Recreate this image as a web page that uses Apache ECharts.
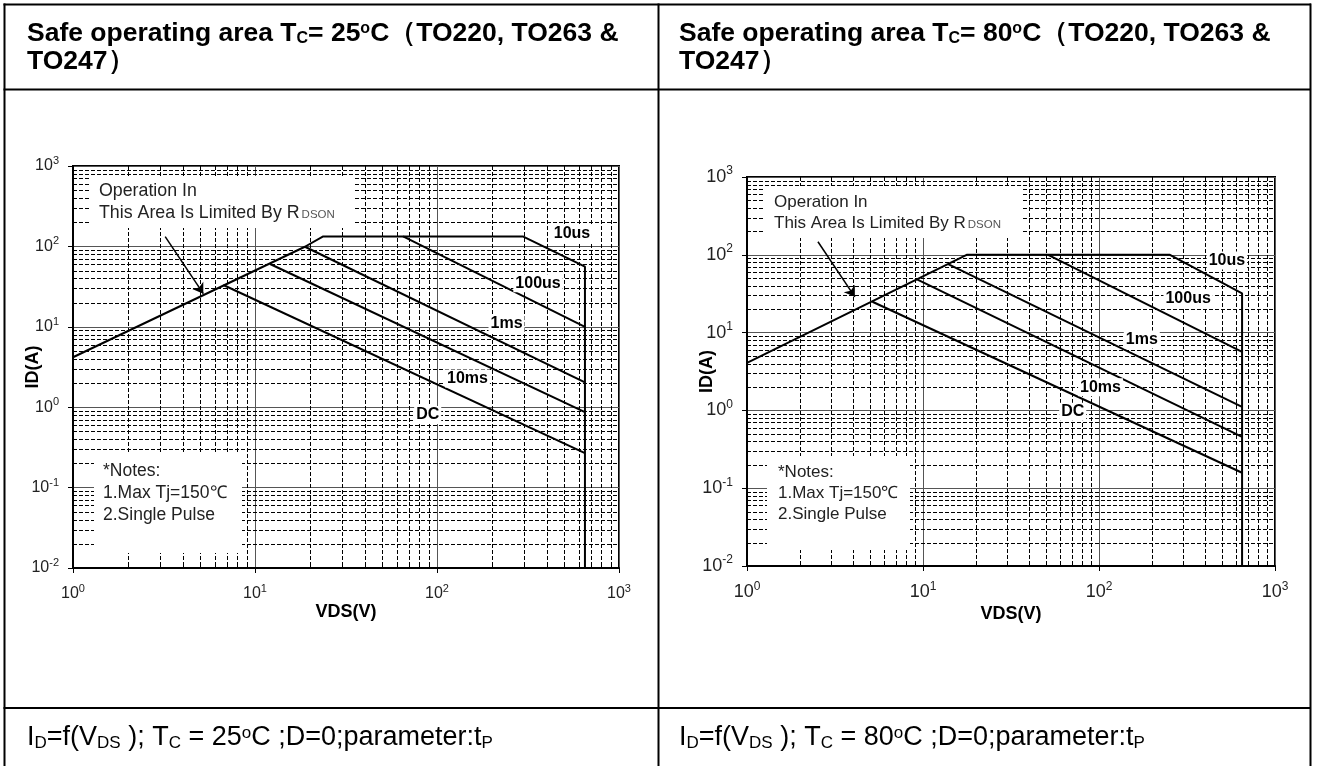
<!DOCTYPE html>
<html>
<head>
<meta charset="utf-8">
<script src="https://cdn.jsdelivr.net/npm/echarts@6/dist/echarts.min.js"></script>
<style>
  html, body { margin: 0; padding: 0; background: #fff; }
  #soa { width: 1317px; height: 766px; }
</style>
</head>
<body>
<div id="soa"></div>
<script>
// ---- axis structure (log-log, VDS in V, ID in A) ----
const xRange = [1, 1000];
const yRange = [0.01, 1000];
const xMinor = [2, 3, 4, 5, 6, 7, 8, 9, 20, 30, 40, 50, 60, 70, 80, 90, 200, 300, 400, 500, 600, 700, 800, 900];
const yMinor = [0.02, 0.03, 0.04, 0.05, 0.06, 0.07, 0.08, 0.09,
                0.2, 0.3, 0.4, 0.5, 0.6, 0.7, 0.8, 0.9,
                2, 3, 4, 5, 6, 7, 8, 9,
                20, 30, 40, 50, 60, 70, 80, 90,
                200, 300, 400, 500, 600, 700, 800, 900];

// ---- Tc = 25 °C ----
// RDS(on) limit -> current limit -> 10us pulse -> VDS max
const limit25 = [[1, 4.18], [18.8, 99], [23.7, 133], [296, 133], [650, 56], [650, 0.01]];
const us100_25 = [[65.1, 133], [650, 10]];
const ms1_25 = [[18.8, 99], [650, 2.04]];
const ms10_25 = [[12.1, 60.4], [650, 0.87]];
const dc_25 = [[6.7, 33.1], [650, 0.268]];

// ---- Tc = 80 °C ----
const limit80 = [[1, 4.09], [17.7, 100], [253, 100], [650, 31.9], [650, 0.01]];
const us100_80 = [[51.4, 100], [650, 5.67]];
const ms1_80 = [[13.9, 75.9], [650, 1.11]];
const ms10_80 = [[9.18, 48.7], [650, 0.458]];
const dc_80 = [[5.16, 24.9], [650, 0.158]];

// pulse-width names and where each is written (data space: VDS, ID)
const pulseNames = ['10us', '100us', '1ms', '10ms', 'DC'];
const labelAt25 = [[552, 146], [359, 34.9], [241, 10.9], [147, 2.27], [88.9, 0.80]];
const labelAt80 = [[533, 84.2], [321, 27.0], [175, 8.13], [102, 1.99], [70.9, 0.96]];

// arrow from the RDS(on) note to the limit line (data space)
const arrow25 = [[3.21, 132], [5.2, 25.8]];
const arrow80 = [[2.53, 147], [4.1, 28.8]];

const FONT = '"Liberation Sans", Arial, Helvetica, sans-serif';

function powLabel(v) {
  const e = Math.round(Math.log10(v));
  return '{b|10}{s|' + e + '}';
}

function tickRich(size, sup) {
  return {
    b: { fontSize: size, fontFamily: FONT, color: '#222', lineHeight: size + 3 },
    s: { fontSize: sup, fontFamily: FONT, color: '#222', lineHeight: sup, padding: [0, 0, size - 6, 0] }
  };
}

function logAxis(gi, isX, size, sup, nameGap, margin) {
  return {
    type: 'log', logBase: 10, gridIndex: gi,
    min: isX ? xRange[0] : yRange[0],
    max: isX ? xRange[1] : yRange[1],
    name: isX ? 'VDS(V)' : 'ID(A)',
    nameLocation: 'middle', nameGap: nameGap, nameRotate: isX ? 0 : 90,
    nameMoveOverlap: false,
    nameTextStyle: { fontFamily: FONT, fontWeight: 'bold', fontSize: 18, color: '#000' },
    axisLine: { show: true, onZero: false, lineStyle: { color: '#000', width: 2 } },
    axisTick: { show: true, inside: false, length: 5, lineStyle: { color: '#000', width: 1 } },
    axisLabel: { show: true, margin: margin, formatter: powLabel, rich: tickRich(size, sup) },
    splitLine: { show: true, lineStyle: { color: '#555', width: 1, type: 'solid' } },
    minorTick: { show: false },
    minorSplitLine: { show: false }
  };
}

// dashed minor grid lines plus short inside ticks, placed by the axis scale
function minorGrid(gi, dir, values) {
  return {
    type: 'custom', xAxisIndex: gi, yAxisIndex: gi, z: 1, silent: true,
    data: values.map(v => dir === 'x' ? [v, 1] : [1, v]),
    encode: { x: 0, y: 1 },
    renderItem(params, api) {
      const cs = params.coordSys;
      const p = api.coord([api.value(0), api.value(1)]);
      const dash = { stroke: '#000', lineWidth: 1, lineDash: [4, 2], fill: null };
      const solid = { stroke: '#000', lineWidth: 1, fill: null };
      if (dir === 'x') {
        const x = Math.round(p[0]) + 0.5;
        return { type: 'group', children: [
          { type: 'line', shape: { x1: x, y1: cs.y, x2: x, y2: cs.y + cs.height }, style: dash },
          { type: 'line', shape: { x1: x, y1: cs.y + cs.height, x2: x, y2: cs.y + cs.height - 5 }, style: solid }
        ] };
      }
      const y = Math.round(p[1]) + 0.5;
      return { type: 'group', children: [
        { type: 'line', shape: { x1: cs.x, y1: y, x2: cs.x + cs.width, y2: y }, style: dash },
        { type: 'line', shape: { x1: cs.x, y1: y, x2: cs.x + 4, y2: y }, style: solid }
      ] };
    }
  };
}

function curve(gi, data, extra) {
  return Object.assign({
    type: 'line', xAxisIndex: gi, yAxisIndex: gi, data: data,
    symbol: 'none', showSymbol: false, silent: true, z: 5,
    lineStyle: { color: '#000', width: 2 }
  }, extra || {});
}

function arrowMark(coords) {
  return {
    silent: true, symbol: ['none', 'arrow'], symbolSize: 10,
    label: { show: false },
    lineStyle: { color: '#000', width: 1.5, type: 'solid' },
    itemStyle: { color: '#000' },
    data: [[{ coord: coords[0] }, { coord: coords[1] }]]
  };
}

function pulseLabels(gi, anchors, size) {
  return {
    type: 'scatter', xAxisIndex: gi, yAxisIndex: gi, z: 6, silent: true,
    symbol: 'circle', symbolSize: 1, itemStyle: { color: '#fff', opacity: 1 },
    data: anchors.map((a, i) => [a[0], a[1], pulseNames[i]]),
    label: {
      show: true, position: 'inside', formatter: p => p.data[2],
      fontFamily: FONT, fontWeight: 'bold', fontSize: size, color: '#000',
      textBorderWidth: 0, textBorderColor: 'transparent',
      backgroundColor: '#fff', padding: [1, 2]
    },
    labelLayout: { hideOverlap: false }
  };
}

// ---- table frame, headings, notes ----
function hline(x1, x2, y) {
  return { type: 'line', z: 20, shape: { x1: x1, y1: y, x2: x2, y2: y }, style: { stroke: '#000', lineWidth: 2 } };
}
function vline(x, y1, y2) {
  return { type: 'line', z: 20, shape: { x1: x, y1: y1, x2: x, y2: y2 }, style: { stroke: '#000', lineWidth: 2 } };
}
function whiteBox(x, y, w, h) {
  return { type: 'rect', z: 3, shape: { x: x, y: y, width: w, height: h }, style: { fill: '#fff', stroke: null } };
}
function noteText(x, y, text, size) {
  return {
    type: 'text', z: 4, x: x, y: y,
    style: {
      text: text, fontFamily: FONT, fontSize: size, fill: '#222', verticalAlign: 'middle', align: 'left',
      rich: { d: { fontFamily: FONT, fontSize: 11.5, fill: '#555', padding: [4, 0, 0, 2], lineHeight: 12 } }
    }
  };
}
const headRich = {
  sub: { fontFamily: FONT, fontWeight: 'bold', fontSize: 16, fill: '#000', lineHeight: 16, padding: [10, 0, 0, 0] },
  sup: { fontFamily: FONT, fontWeight: 'bold', fontSize: 16, fill: '#000', lineHeight: 16, padding: [0, 0, 10, 0] }
};
const captionRich = {
  sub: { fontFamily: FONT, fontSize: 17, fill: '#000', lineHeight: 17, padding: [10, 0, 0, 0] },
  sup: { fontFamily: FONT, fontSize: 17, fill: '#000', lineHeight: 17, padding: [0, 0, 10, 0] }
};
function heading(x, tc) {
  return {
    type: 'text', z: 20, x: x, y: 20,
    style: {
      text: 'Safe operating area T{sub|C}= ' + tc + '{sup|o}C（TO220, TO263 &\nTO247）',
      fontFamily: FONT, fontWeight: 'bold', fontSize: 26.5, lineHeight: 28, fill: '#000',
      align: 'left', verticalAlign: 'top', rich: headRich
    }
  };
}
function caption(x, tc) {
  return {
    type: 'text', z: 20, x: x, y: 738,
    style: {
      text: 'I{sub|D}=f(V{sub|DS} ); T{sub|C} = ' + tc + '{sup|o}C ;D=0;parameter:t{sub|P}',
      fontFamily: FONT, fontSize: 27, lineHeight: 30, fill: '#000',
      align: 'left', verticalAlign: 'middle', rich: captionRich
    }
  };
}

const option = {
  animation: false,
  backgroundColor: '#fff',
  grid: [
    { left: 73, top: 166, width: 546, height: 402, show: true, borderColor: '#000', borderWidth: 2,
      backgroundColor: 'transparent', containLabel: false, outerBoundsMode: 'none' },
    { left: 747, top: 177, width: 528, height: 389, show: true, borderColor: '#000', borderWidth: 2,
      backgroundColor: 'transparent', containLabel: false, outerBoundsMode: 'none' }
  ],
  xAxis: [logAxis(0, true, 16, 11, 35, 16), logAxis(1, true, 18, 12, 39, 16)],
  yAxis: [logAxis(0, false, 16, 11, 31, 14), logAxis(1, false, 18, 12, 31, 14)],
  series: [
    minorGrid(0, 'x', xMinor), minorGrid(0, 'y', yMinor),
    minorGrid(1, 'x', xMinor), minorGrid(1, 'y', yMinor),

    curve(0, limit25, { markLine: arrowMark(arrow25) }),
    curve(0, us100_25), curve(0, ms1_25), curve(0, ms10_25), curve(0, dc_25),
    pulseLabels(0, labelAt25, 16),

    curve(1, limit80, { markLine: arrowMark(arrow80) }),
    curve(1, us100_80), curve(1, ms1_80), curve(1, ms10_80), curve(1, dc_80),
    pulseLabels(1, labelAt80, 16)
  ],
  graphic: [
    // table
    hline(3.5, 1311, 4.5), hline(3.5, 1311, 89.5), hline(3.5, 1311, 708),
    vline(4.5, 3.5, 766), vline(658.5, 3.5, 766), vline(1310.5, 3.5, 766),
    heading(27, 25), heading(679, 80),
    caption(27, 25), caption(679, 80),

    // RDS(on) note, 25 °C
    whiteBox(89, 176, 266, 52),
    noteText(99, 191, 'Operation In', 17.8),
    noteText(99, 213, 'This Area Is Limited By R{d|DSON}', 17.8),
    // test conditions, 25 °C
    whiteBox(94, 454, 148, 99),
    noteText(103, 471, '*Notes:', 17.5),
    noteText(103, 493, '1.Max Tj=150℃', 17.5),
    noteText(103, 515, '2.Single Pulse', 17.5),

    // RDS(on) note, 80 °C
    whiteBox(763, 186, 259, 52),
    noteText(774, 202, 'Operation In', 17),
    noteText(774, 223, 'This Area Is Limited By R{d|DSON}', 17),
    // test conditions, 80 °C
    whiteBox(767, 456, 143, 94),
    noteText(778, 472, '*Notes:', 17),
    noteText(778, 493, '1.Max Tj=150℃', 17),
    noteText(778, 514, '2.Single Pulse', 17)
  ]
};

const chart = echarts.init(document.getElementById('soa'), null, { renderer: 'canvas' });
chart.setOption(option);
</script>
</body>
</html>
